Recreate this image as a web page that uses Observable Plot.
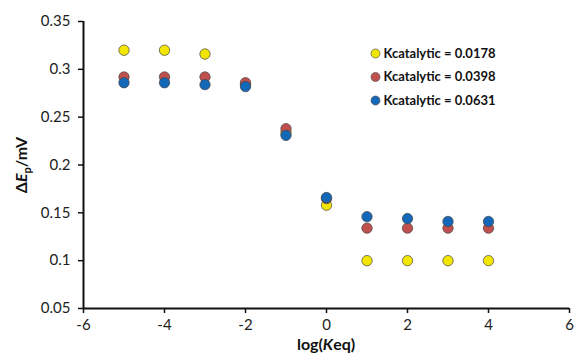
<!DOCTYPE html>
<html>
<head>
<meta charset="utf-8">
<script src="https://cdn.jsdelivr.net/npm/d3@7"></script>
<script src="https://cdn.jsdelivr.net/npm/@observablehq/plot@0.6"></script>
<style>
  html, body { margin: 0; padding: 0; background: #fff; }
  #chart { width: 574px; height: 356px; }
  svg { font-family: Lato, "Open Sans", sans-serif; }
</style>
</head>
<body>
<div id="chart"></div>
<script>
const logKeq = [-5, -4, -3, -2, -1, 0, 1, 2, 3, 4];
const series = ["Kcatalytic = 0.0178", "Kcatalytic = 0.0398", "Kcatalytic = 0.0631"];
const colors = ["#f2e600", "#c0504d", "#1468b8"];
const yellowVals = [0.320, 0.320, 0.316, 0.284, 0.234, 0.158, 0.100, 0.100, 0.100, 0.100];
const redVals    = [0.292, 0.292, 0.292, 0.286, 0.238, 0.165, 0.134, 0.134, 0.134, 0.134];
const blueVals   = [0.286, 0.286, 0.284, 0.282, 0.231, 0.166, 0.146, 0.144, 0.141, 0.141];
const xTicks = [-6, -4, -2, 0, 2, 4, 6];
const yTicks = [0.05, 0.1, 0.15, 0.2, 0.25, 0.3, 0.35];

const allVals = [yellowVals, redVals, blueVals];
const data = [];
allVals.forEach((vals, s) => vals.forEach((v, i) => data.push({x: logKeq[i], y: v, s: series[s]})));

const legendMarks = series.flatMap((name, i) => [
  Plot.dot([name], {frameAnchor: "top-left", dx: 292, dy: 32 + i * 23.5, r: 4.5, fill: colors[i], stroke: "#555", strokeWidth: 0.7}),
  Plot.text([name], {frameAnchor: "top-left", dx: 300, dy: 32 + i * 23.5, text: d => d, textAnchor: "start", lineAnchor: "middle", fontWeight: "bold", fontSize: 13, fill: "#111"})
]);

const plot = Plot.plot({
  width: 574,
  height: 356,
  marginLeft: 83,
  marginRight: 5,
  marginTop: 21,
  marginBottom: 48,
  style: {fontFamily: "Lato, 'Open Sans', sans-serif", fontSize: "15px", color: "#222"},
  x: {domain: [-6, 6]},
  y: {domain: [0.05, 0.35]},
  color: {domain: series, range: colors},
  marks: [
    Plot.axisX({ticks: xTicks, tickSize: 5, tickPadding: 6, tickFormat: d => String(d), label: null, fontSize: 15, stroke: "#111", strokeWidth: 1.5}),
    Plot.axisY({ticks: yTicks, tickSize: 5, tickPadding: 8, tickFormat: d => String(d), label: null, fontSize: 15, stroke: "#111", strokeWidth: 1.5}),
    Plot.ruleX([-6], {stroke: "#111", strokeWidth: 2}),
    Plot.ruleY([0.05], {stroke: "#111", strokeWidth: 2}),
    Plot.dot(data, {x: "x", y: "y", fill: "s", r: 5.2, stroke: "#444", strokeWidth: 0.7}),
    ...legendMarks
  ]
});

const svg = d3.select(plot);
const xl = svg.append("text")
  .attr("x", 326).attr("y", 350)
  .attr("text-anchor", "middle")
  .attr("font-size", 16).attr("font-weight", "bold").attr("fill", "#111");
xl.append("tspan").text("log(");
xl.append("tspan").attr("font-style", "italic").text("K");
xl.append("tspan").text("eq)");

const yl = svg.append("text")
  .attr("transform", "translate(27,165) rotate(-90)")
  .attr("text-anchor", "middle")
  .attr("font-size", 16).attr("font-weight", "bold").attr("fill", "#111");
yl.append("tspan").text("\u0394");
yl.append("tspan").attr("font-style", "italic").text("E");
yl.append("tspan").attr("font-size", 11).attr("dy", 4).text("p");
yl.append("tspan").attr("dy", -4).text("/mV");

document.getElementById("chart").appendChild(plot);
</script>
</body>
</html>
